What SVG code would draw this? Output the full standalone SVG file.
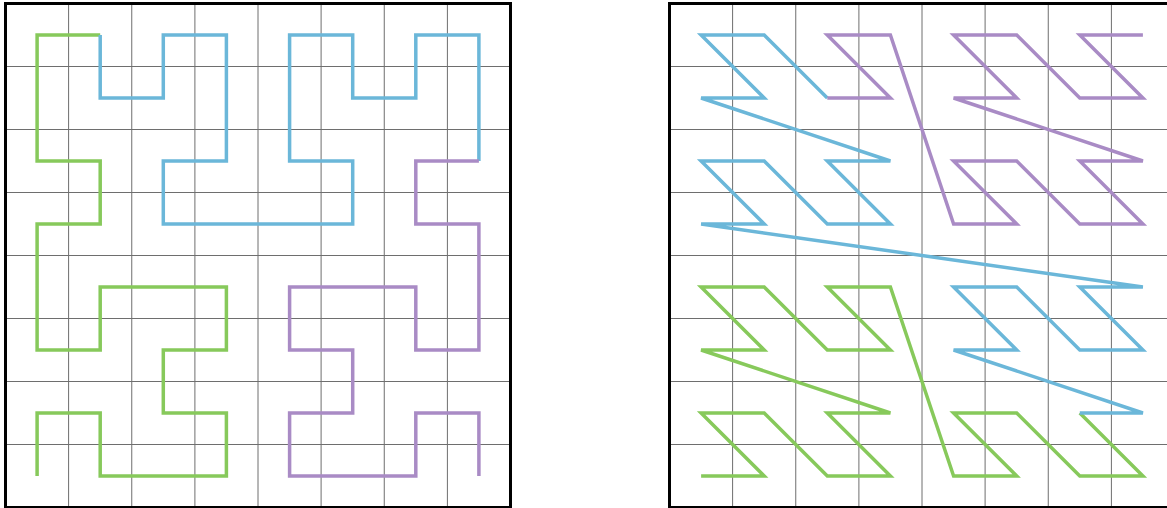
<svg xmlns="http://www.w3.org/2000/svg" width="1167" height="508" viewBox="0 0 1167 508">
<style>
.bg{fill:#ffffff}
.grid{stroke:#6e6e6e;stroke-width:1;fill:none}
.frame{stroke:#000000;stroke-width:3;fill:none}
.curve{fill:none;stroke-width:3.5;stroke-linejoin:miter;stroke-linecap:butt}
.g{stroke:#87c95b}
.b{stroke:#6bb7d9}
.p{stroke:#a98bc5}
</style>
<rect class="bg" x="0" y="0" width="1167" height="508"/>
<g id="hilbert-panel">
  <g id="hilbert-grid" class="grid">
    <path d="M68.6 3.5V507.5M131.75 3.5V507.5M194.9 3.5V507.5M258 3.5V507.5M321.1 3.5V507.5M384.25 3.5V507.5M447.4 3.5V507.5"/>
    <path d="M5.5 66.5H510.5M5.5 129.5H510.5M5.5 192.5H510.5M5.5 255.5H510.5M5.5 318.5H510.5M5.5 381.5H510.5M5.5 444.5H510.5"/>
  </g>
  <g id="hilbert-curve">
    <polyline id="hilbert-green" class="curve g" points="37.1,476 37.1,413 100.2,413 100.2,476 226.4,476 226.4,413 163.3,413 163.3,350 226.4,350 226.4,287 100.2,287 100.2,350 37.1,350 37.1,224 100.2,224 100.2,161 37.1,161 37.1,35 100.2,35"/>
    <polyline id="hilbert-blue" class="curve b" points="100.2,35 100.2,98 163.3,98 163.3,35 226.4,35 226.4,161 163.3,161 163.3,224 352.7,224 352.7,161 289.6,161 289.6,35 352.7,35 352.7,98 415.8,98 415.8,35 478.9,35 478.9,161"/>
    <polyline id="hilbert-purple" class="curve p" points="478.9,161 415.8,161 415.8,224 478.9,224 478.9,350 415.8,350 415.8,287 289.6,287 289.6,350 352.7,350 352.7,413 289.6,413 289.6,476 415.8,476 415.8,413 478.9,413 478.9,476"/>
  </g>
  <rect id="hilbert-frame" class="frame" x="5.5" y="3.5" width="505" height="504"/>
</g>
<g id="morton-panel">
  <g id="morton-grid" class="grid">
    <path d="M732.6 3.5V507.5M795.75 3.5V507.5M858.9 3.5V507.5M922 3.5V507.5M985.1 3.5V507.5M1048.25 3.5V507.5M1111.4 3.5V507.5"/>
    <path d="M669.5 66.5H1174.5M669.5 129.5H1174.5M669.5 192.5H1174.5M669.5 255.5H1174.5M669.5 318.5H1174.5M669.5 381.5H1174.5M669.5 444.5H1174.5"/>
  </g>
  <g id="morton-curve">
    <polyline id="morton-green" class="curve g" points="701.1,476 764.2,476 701.1,413 764.2,413 827.3,476 890.4,476 827.3,413 890.4,413 701.1,350 764.2,350 701.1,287 764.2,287 827.3,350 890.4,350 827.3,287 890.4,287 953.6,476 1016.7,476 953.6,413 1016.7,413 1079.8,476 1142.9,476 1079.8,413"/>
    <polyline id="morton-blue" class="curve b" points="1079.8,413 1142.9,413 953.6,350 1016.7,350 953.6,287 1016.7,287 1079.8,350 1142.9,350 1079.8,287 1142.9,287 701.1,224 764.2,224 701.1,161 764.2,161 827.3,224 890.4,224 827.3,161 890.4,161 701.1,98 764.2,98 701.1,35 764.2,35 827.3,98"/>
    <polyline id="morton-purple" class="curve p" points="827.3,98 890.4,98 827.3,35 890.4,35 953.6,224 1016.7,224 953.6,161 1016.7,161 1079.8,224 1142.9,224 1079.8,161 1142.9,161 953.6,98 1016.7,98 953.6,35 1016.7,35 1079.8,98 1142.9,98 1079.8,35 1142.9,35"/>
  </g>
  <rect id="morton-frame" class="frame" x="669.5" y="3.5" width="505" height="504"/>
</g>
</svg>
